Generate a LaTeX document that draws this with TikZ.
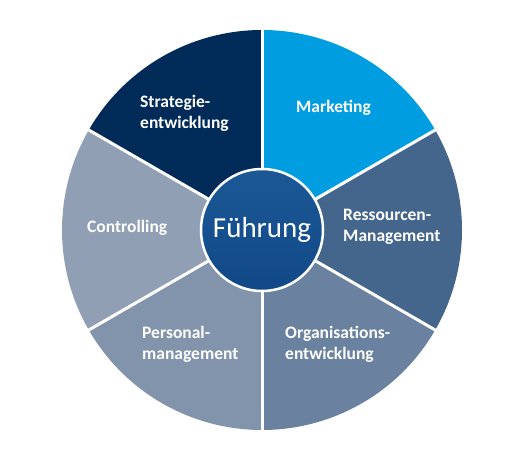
\documentclass[tikz,border=0pt]{standalone}
\usepackage{fontspec}
\setmainfont{Carlito}
\usepackage{xcolor}
\usetikzlibrary{positioning,calc}
\definecolor{strategie}{HTML}{002A58}
\definecolor{marketing}{HTML}{009EE0}
\definecolor{ressourcen}{HTML}{45668C}
\definecolor{organisation}{HTML}{6A819F}
\definecolor{personal}{HTML}{8294AC}
\definecolor{controlling}{HTML}{909FB4}
\definecolor{hubtop}{HTML}{1C5896}
\definecolor{hubbot}{HTML}{114888}

\begin{document}
\begin{tikzpicture}[x=1pt, y=1pt,
    sep/.style={draw=white, line width=3pt},
    lbl/.style={text=white, font=\fontsize{17.5}{21}\selectfont\bfseries, align=left, inner sep=0pt, anchor=west},
    hub/.style={circle, draw=white, line width=2.5pt, minimum size=122pt, inner sep=0pt, top color=hubtop, bottom color=hubbot, text=white, font=\fontsize{29}{35}\selectfont},
]
    \useasboundingbox (0,0) rectangle (524,459);
    \coordinate (c) at (262,229);

    % Segments
    \foreach \a/\col in {30/marketing, 90/strategie, 150/controlling, 210/personal, 270/organisation, 330/ressourcen}
        \fill[\col] (c) -- ++(\a:200) arc[start angle=\a, end angle=\a+60, radius=200] -- cycle;

    % White separators
    \foreach \a in {30,90,...,330}
        \draw[sep] (c) -- ++(\a:201);

    % Labels
    \node[lbl] (strategie) at (140,346) {Strategie-\\entwicklung};
    \node[lbl] (marketing) at (296,351) {Marketing};
    \node[lbl] (ressourcen) at (343,232) {Ressourcen-\\Management};
    \node[lbl] (organisation) at (285,115) {Organisations-\\entwicklung};
    \node[lbl] (personal) at (142,115) {Personal-\\management};
    \node[lbl] (controlling) at (87,231) {Controlling};

    % Centre
    \node[hub] (hub) at (c) {Führung};
\end{tikzpicture}
\end{document}
